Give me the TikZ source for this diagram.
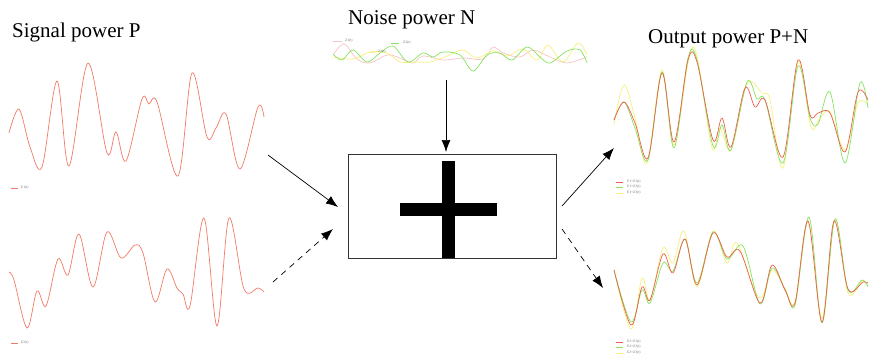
\documentclass[tikz,border=0pt]{standalone}
\usepackage{fontspec}
\setmainfont{Liberation Serif}
\usetikzlibrary{arrows.meta}
\definecolor{sigred}{HTML}{F07A66}
\definecolor{outred}{HTML}{EC5F4C}
\definecolor{outgreen}{HTML}{86E25E}
\definecolor{outyellow}{HTML}{F7F07C}
\definecolor{noisepink}{HTML}{F6C4C4}
\definecolor{leggray}{HTML}{707070}
\tikzset{
  title/.style={font=\fontsize{21}{23}\selectfont, anchor=base west, inner sep=0pt},
  wave/.style={line width=0.7pt, smooth, tension=0.55},
  leg/.style={font=\fontsize{3.6}{4}\selectfont, text=leggray, anchor=west, inner sep=0pt},
  legline/.style={line width=0.7pt},
  sumbox/.style={draw=black!80, line width=0.8pt, minimum width=208pt, minimum height=104pt, inner sep=0pt},
  bar/.style={fill=black, draw=none},
  arr/.style={line width=0.7pt, -{Latex[length=12pt,width=9pt]}},
  darr/.style={arr, dash pattern=on 6pt off 5pt},
}
\begin{document}
\begin{tikzpicture}[x=1pt,y=-1pt]
\useasboundingbox (0,0) rectangle (869,357);
% titles
\node[title] (tsig) at (12,37) {Signal power P};
\node[title] (tnoise) at (348,24) {Noise power N};
\node[title] (tout) at (648,43) {Output power P+N};

% summing box
\node[sumbox] (box) at (452,206) {};
\fill[bar] (442,161) rectangle (455,258);
\fill[bar] (400,203) rectangle (497,216);

% arrow end points
\coordinate (s1) at (268,155);
\coordinate (s1e) at (338,207);
\coordinate (s2) at (273,282);
\coordinate (s2e) at (333,229);
\coordinate (n1) at (446,80);
\coordinate (n1e) at (446,152);
\coordinate (o1) at (562,206);
\coordinate (o1e) at (614,148);
\coordinate (o2) at (562,229);
\coordinate (o2e) at (603,288);
\draw[arr] (s1) -- (s1e);
\draw[darr] (s2) -- (s2e);
\draw[arr] (n1) -- (n1e);
\draw[arr] (o1) -- (o1e);
\draw[darr] (o2) -- (o2e);

% signal top
\draw[wave, sigred] plot coordinates {(9,133) (19,109) (30,147) (42,167) (57,81) (69,166) (88,63) (107,153) (116,132) (126,161) (142,99) (149,104) (157,102) (178,176) (192,73) (207,137) (216,128) (226,114) (240,169) (258,107) (264,117)};
\draw[legline, sigred] (11,188) -- (18,188);
\node[leg] (lsig1) at (21,188) {E1(t)};

% signal bottom
\draw[wave, sigred] plot coordinates {(9,272) (14,280) (27,328) (37,291) (46,306) (58,259) (68,275) (79,234) (93,287) (107,232) (121,258) (135,245) (143,253) (155,302) (167,269) (177,288) (183,294) (190,306) (204,218) (217,326) (229,218) (244,289) (258,288) (264,292)};
\draw[legline, sigred] (11,343) -- (18,343);
\node[leg] (lsig2) at (21,343) {E2(t)};

% noise
\draw[wave, noisepink] plot coordinates {(333,55) (344,44) (357,59) (370,63) (387,55) (400,58) (413,63) (423,56) (443,60) (463,58) (483,59) (493,47) (503,53) (520,57) (533,50) (550,57) (567,63) (587,57)};
\draw[wave, outyellow] plot coordinates {(333,57) (353,59) (370,52) (387,53) (400,62) (417,62) (430,62) (447,56) (463,50) (477,58) (493,51) (507,56) (523,49) (537,60) (548,45) (563,62) (578,43) (587,55)};
\draw[wave, outgreen] plot coordinates {(333,54) (342,60) (353,50) (367,62) (380,53) (393,46) (408,62) (423,53) (433,57) (443,52) (460,55) (473,71) (487,55) (500,53) (512,60) (527,47) (540,57) (550,63) (567,51) (580,50) (587,63)};
\draw[legline, noisepink] (333,41) -- (342,41);
\node[leg] (lz1) at (345,41) {Z1(t)};
\draw[legline, outgreen] (391,43) -- (399,43);
\node[leg] (lz2) at (403,43) {Z2(t)};
\draw[legline, outyellow] (368,52) -- (375,52);
\node[leg] (lz3) at (378,52) {Z3(t)};

% output top
\draw[wave, outyellow] plot coordinates {(614,124) (624,85) (635,118) (647,163) (662,70) (674,145) (689,58) (697,56) (712,148) (720,128) (731,150) (747,84) (762,93) (770,100) (783,168) (798,62) (811,127) (820,118) (830,112) (845,150) (858,103) (868,105)};
\draw[wave, outgreen] plot coordinates {(614,120) (624,102) (635,128) (648,160) (662,72) (674,148) (688,58) (697,60) (713,146) (722,125) (731,150) (747,82) (757,99) (765,100) (783,163) (798,66) (810,118) (818,124) (830,92) (845,163) (860,83) (868,108)};
\draw[wave, outred] plot coordinates {(614,120) (624,102) (635,123) (648,158) (662,73) (674,142) (688,60) (697,62) (713,140) (722,118) (731,147) (745,88) (755,107) (765,100) (783,157) (798,60) (810,115) (818,113) (830,113) (845,152) (858,92) (868,100)};
\draw[legline, outred] (616,182) -- (623,182);
\node[leg] (lo1) at (627,182) {E1+Z1(t)};
\draw[legline, outgreen] (616,187) -- (623,187);
\node[leg] (lo2) at (627,187) {E1+Z2(t)};
\draw[legline, outyellow] (616,193) -- (623,193);
\node[leg] (lo3) at (627,193) {E1+Z3(t)};

% output bottom
\draw[wave, outyellow] plot coordinates {(614,270) (631,329) (642,278) (650,300) (663,248) (673,263) (684,231) (697,287) (713,231) (727,263) (737,243) (759,298) (772,270) (785,289) (795,302) (808,222) (822,318) (835,219) (848,293) (862,281) (868,286)};
\draw[wave, outgreen] plot coordinates {(614,270) (631,322) (642,290) (650,303) (663,263) (673,271) (685,239) (697,283) (713,232) (727,259) (743,246) (760,304) (772,268) (785,289) (795,305) (809,217) (822,323) (835,219) (848,290) (862,280) (868,287)};
\draw[wave, outred] plot coordinates {(614,270) (631,325) (642,287) (650,300) (663,254) (673,273) (685,239) (697,285) (713,233) (727,257) (740,251) (760,303) (772,265) (785,290) (795,303) (808,221) (822,322) (834,221) (848,289) (863,282) (868,283)};
\draw[legline, outred] (616,342) -- (623,342);
\node[leg] (lo4) at (627,342) {E2+Z1(t)};
\draw[legline, outgreen] (616,347) -- (623,347);
\node[leg] (lo5) at (627,347) {E2+Z2(t)};
\draw[legline, outyellow] (616,353) -- (623,353);
\node[leg] (lo6) at (627,353) {E2+Z3(t)};
\end{tikzpicture}
\end{document}
